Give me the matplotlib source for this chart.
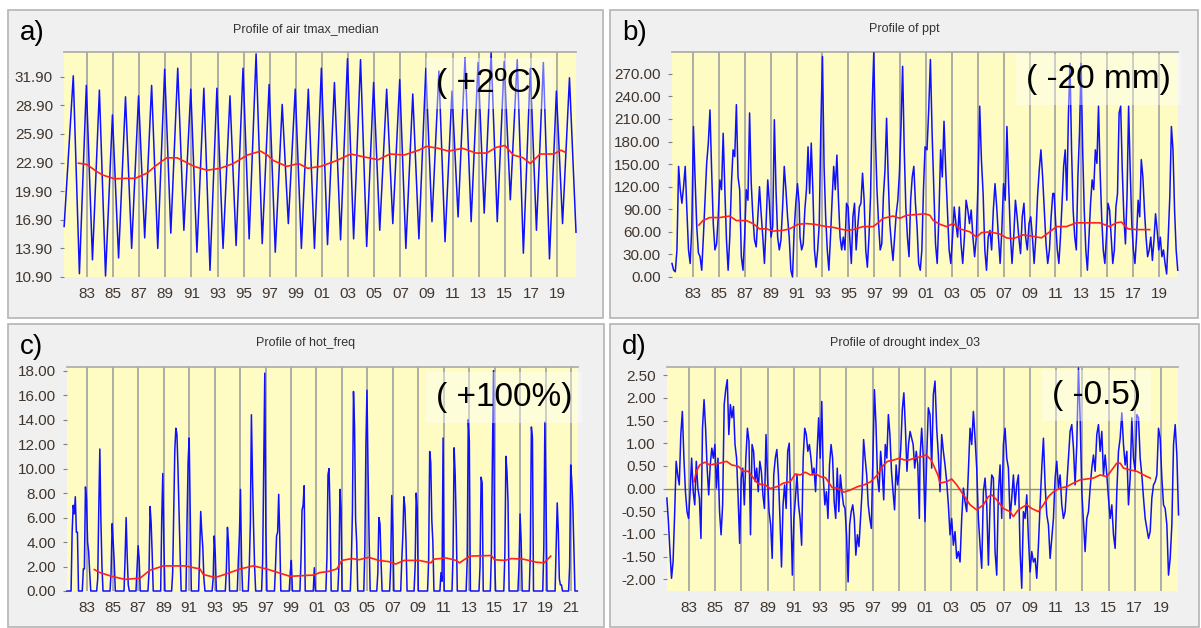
import numpy as np
import matplotlib.pyplot as plt
from matplotlib.patches import Rectangle

plt.rcParams['font.family'] = ['Liberation Sans', 'DejaVu Sans']

# ---------------- data ----------------
# a) air tmax_median : yearly summer peaks (1981..2019) and winter troughs (1982..2019)
tmax_peak_years = list(range(1981, 2020))
tmax_peaks = [32.0, 31.0, 30.5, 27.9, 29.8, 29.9, 31.0, 32.7, 32.8, 30.6,
              30.7, 30.7, 29.9, 32.8, 34.3, 31.1, 29.0, 30.6, 30.6, 32.8,
              31.3, 33.8, 33.7, 31.3, 30.6, 31.6, 30.1, 32.8, 32.5, 30.4,
              33.9, 33.4, 34.4, 33.5, 33.7, 32.8, 33.4, 30.4, 31.8]
tmax_trough_years = list(range(1982, 2020))
tmax_troughs = [11.25, 12.7, 11.0, 12.9, 13.9, 15.0, 13.9, 15.5, 15.8, 13.5,
                11.6, 13.9, 14.2, 14.9, 14.4, 13.5, 16.5, 13.9, 13.9, 14.3,
                14.8, 14.9, 14.1, 15.8, 16.5, 13.9, 14.9, 16.7, 14.6, 17.2,
                16.7, 17.6, 16.7, 19.0, 13.4, 15.8, 12.8, 16.5]
tmax_first = (1981.25, 16.2)
tmax_last = (2020.45, 15.6)
tmax_ma_t = [1982.35, 1983.0, 1983.7, 1984.2, 1985.1, 1986.0, 1986.7, 1987.6, 1988.3, 1989.1,
             1989.9, 1990.5, 1991.2, 1992.2, 1993.2, 1994.2, 1995.3, 1996.3, 1996.8, 1997.3,
             1998.3, 1999.2, 1999.9, 2000.9, 2002.1, 2003.2, 2004.2, 2005.3, 2006.2, 2007.3,
             2008.4, 2009.0, 2009.9, 2010.7, 2011.75, 2012.8, 2013.6, 2014.35, 2015.0, 2015.65,
             2016.4, 2016.95, 2017.7, 2018.75, 2019.3, 2019.6]
tmax_ma = [22.84, 22.7, 22.0, 21.6, 21.2, 21.25, 21.25, 21.8, 22.6, 23.4,
           23.4, 23.0, 22.5, 22.1, 22.3, 22.8, 23.7, 24.1, 23.7, 23.1,
           22.5, 22.8, 22.3, 22.5, 23.1, 23.8, 23.5, 23.2, 23.8, 23.7,
           24.2, 24.6, 24.4, 24.1, 24.4, 23.9, 23.9, 24.5, 24.7, 23.7,
           23.4, 22.8, 23.8, 23.8, 24.2, 24.0]

# b) ppt : four stretches of the trace, (start, end) in years
ppt_spans = [(1981.38, 1991.20), (1991.27, 2000.93), (2001.08, 2010.80), (2010.90, 2020.45)]
ppt_1 = [18, 9, 7, 36, 147, 116, 98, 120, 147, 89, 36, 18, 67, 200, 129, 67, 32, 27, 9, 53,
         102, 151, 178, 222, 142, 71, 36, 44, 80, 129, 116, 191, 116, 49, 9, 53, 124, 169, 160, 229,
         133, 116, 27, 9, 53, 116, 102, 218, 124, 80, 49, 40, 80, 120, 84, 53, 18, 71, 129, 98,
         53, 67, 209, 116, 53, 36, 49, 93, 147, 116, 80, 53, 9, 0, 62, 98, 124, 98]
ppt_2 = [53, 36, 44, 89, 116, 173, 111, 178, 116, 36, 13, 36, 71, 200, 293, 147, 80, 36, 9, 53,
         102, 147, 116, 162, 102, 53, 36, 53, 36, 98, 93, 53, 18, 80, 98, 36, 67, 93, 98, 138,
         102, 36, 13, 53, 107, 227, 298, 187, 116, 71, 36, 44, 107, 142, 211, 133, 71, 44, 22, 53,
         84, 102, 138, 200, 280, 169, 93, 53, 27, 102, 133, 147, 98, 67, 18, 9, 36, 116, 173]
ppt_3 = [169, 222, 289, 191, 116, 44, 18, 80, 169, 133, 207, 142, 89, 36, 18, 53, 93, 71, 53, 93,
         44, 18, 53, 102, 89, 71, 89, 53, 27, 53, 124, 227, 156, 111, 36, 9, 53, 62, 36, 89,
         124, 93, 53, 18, 62, 124, 102, 200, 124, 58, 18, 53, 102, 80, 53, 31, 80, 98, 53, 36,
         71, 80, 53, 18, 53, 107, 142, 169, 133, 89, 44, 18, 36, 80, 111]
ppt_4 = [111, 71, 36, 18, 53, 98, 147, 169, 102, 213, 284, 169, 89, 53, 36, 133, 191, 284, 169, 89,
         36, 9, 53, 98, 129, 116, 169, 151, 227, 142, 80, 36, 18, 53, 98, 89, 53, 18, 36, 93,
         111, 218, 227, 142, 80, 44, 107, 227, 142, 71, 36, 18, 53, 102, 80, 156, 133, 89, 53, 27,
         36, 53, 22, 49, 84, 62, 36, 53, 27, 36, 18, 4, 53, 107, 200, 169, 89, 36, 9]
ppt_ma_t = [1983.46, 1983.77, 1984.29, 1985.06, 1985.84, 1986.35, 1987.12, 1987.64, 1988.15, 1988.67,
            1989.19, 1989.96, 1990.47, 1991.12, 1991.76, 1992.41, 1993.31, 1993.82, 1994.86, 1995.37,
            1996.14, 1996.92, 1997.30, 1997.69, 1998.46, 1998.98, 1999.49, 2000.27, 2000.91, 2001.30,
            2001.57, 2002.08, 2002.59, 2003.11, 2003.62, 2004.39, 2004.91, 2005.29, 2005.94, 2006.71,
            2007.22, 2007.74, 2008.51, 2009.28, 2009.92, 2010.56, 2011.08, 2011.85, 2012.62, 2013.39,
            2014.42, 2015.19, 2015.70, 2016.09, 2016.60, 2017.25, 2018.28]
ppt_ma = [69, 75, 79, 79, 81, 75, 75, 71, 64, 64,
          61, 62, 64, 70, 71, 70, 67, 66, 62, 63,
          67, 67, 72, 78, 81, 78, 82, 83, 84, 82,
          75, 70, 67, 71, 64, 60, 53, 59, 60, 57,
          52, 51, 56, 54, 52, 60, 67, 67, 72, 72,
          72, 67, 72, 73, 64, 63, 63]

# c) hot_freq : onset of each hot season and its monthly values
hot_onsets = [1981.72, 1982.60, 1983.73, 1984.78, 1985.88, 1986.82, 1987.76, 1988.76, 1989.62, 1990.75,
              1991.74, 1992.80, 1993.84, 1994.78, 1995.64, 1996.69, 1997.70, 1998.86, 1999.70, 2000.75,
              2001.74, 2002.68, 2003.66, 2004.72, 2005.74, 2006.75, 2007.62, 2008.67, 2009.73, 2010.70,
              2011.65, 2012.76, 2013.77, 2014.66, 2015.72, 2016.83, 2017.72, 2018.78, 2019.75, 2020.81]
hot_seasons = [
    [0, 4.8, 7.0, 6.3, 7.7, 4.8, 4.8, 0], [0, 1.8, 1.8, 8.5, 7.5, 4.0, 3.2, 1.5, 0],
    [0, 1.0, 6.7, 11.6, 5.8, 2.0, 0], [0, 1.5, 5.5, 4.0, 2.3, 0], [0, 2.7, 6.0, 2.8, 0.5, 0],
    [0, 1.8, 3.7, 2.6, 0], [0, 1.5, 6.9, 5.6, 3.0, 0], [0, 5.8, 9.6, 4.0, 0],
    [0, 1.5, 6.5, 11.5, 13.3, 12.8, 10.0, 6.5, 3.0, 0], [0, 5.8, 10.6, 12.5, 6.4, 0],
    [0, 3.0, 6.5, 4.8, 3.5, 1.0, 0], [0, 1.0, 4.5, 3.0, 0], [0, 1.8, 5.2, 3.9, 0],
    [0, 2.5, 4.6, 8.3, 2.5, 0], [0, 2.0, 5.5, 14.4, 9.3, 5.3, 2.0, 0], [0, 2.5, 9.9, 17.8, 5.2, 0],
    [0, 2.0, 4.5, 4.8, 7.9, 4.4, 0], [0, 1.5, 2.5, 0], [0, 2.5, 6.6, 7.0, 8.6, 0], [0, 1.9, 0],
    [0, 2.7, 9.5, 10.0, 6.2, 0], [0, 2.0, 8.3, 6.8, 0], [0, 2.5, 6.5, 16.3, 13.4, 5.8, 4.0, 0],
    [0, 3.5, 12.0, 16.4, 9.8, 4.3, 0], [0, 1.5, 6.0, 5.5, 2.5, 0], [0, 2.0, 7.8, 5.0, 0],
    [0, 2.5, 4.5, 7.7, 6.8, 4.0, 0], [0, 2.0, 8.0, 6.7, 0], [0, 2.5, 11.4, 10.5, 5.8, 4.0, 0],
    [0, 1.5, 0.8, 12.5, 0], [0, 3.0, 11.7, 9.5, 5.3, 0], [0, 2.5, 14.0, 12.3, 0],
    [0, 2.0, 9.3, 8.8, 0], [0, 3.0, 11.1, 18.0, 3.0, 0], [0, 3.0, 11.0, 9.7, 7.2, 0],
    [0, 2.0, 6.3, 4.2, 0], [0, 3.0, 13.4, 12.5, 0], [0, 3.5, 13.8, 8.0, 0],
    [0, 3.5, 7.2, 5.0, 1.0, 0.5, 0.5, 0], [0, 2.0, 10.3, 9.0, 7.0, 3.5, 0]]
hot_start = 1981.40
hot_end = 2021.50
hot_ma_t = [1983.55, 1984.0, 1984.91, 1985.96, 1987.14, 1987.92, 1988.97, 1990.67, 1991.85, 1992.11,
            1993.03, 1993.94, 1994.99, 1996.04, 1997.09, 1998.92, 2000.75, 2001.27, 2001.94, 2002.6,
            2003.0, 2003.79, 2004.32, 2005.11, 2005.9, 2006.69, 2007.22, 2007.88, 2009.06, 2009.98,
            2010.24, 2011.18, 2011.97, 2012.24, 2013.03, 2014.74, 2015.0, 2015.8, 2016.33, 2017.25,
            2018.3, 2018.88, 2019.41]
hot_ma = [1.75, 1.5, 1.2, 0.95, 1.05, 1.7, 2.05, 2.05, 1.8, 1.35,
          1.1, 1.4, 1.8, 2.05, 1.8, 1.2, 1.3, 1.5, 1.6, 1.8,
          2.5, 2.65, 2.55, 2.75, 2.5, 2.4, 2.2, 2.5, 2.5, 2.3,
          2.6, 2.7, 2.5, 2.3, 2.85, 2.9, 2.55, 2.5, 2.65, 2.6,
          2.35, 2.3, 2.85]

# d) drought index_03 : two stretches of the trace
dri_spans = [(1981.31, 2000.57), (2000.62, 2020.34)]
dri_1 = [-0.21, -0.73, -1.39, -1.98, -1.62, -0.58, 0.60, 0.30, 0.08, 1.19, 1.70, 0.67, -0.07, -0.51, -0.66,
         -0.07, 0.67, -0.07, -0.36, 0.60, 0.01, -0.21, -1.10, 1.33, 1.96, 1.33, 0.45, -0.14, 0.52, 0.89,
         0.67, 0.97, 0.01, 0.67, -0.51, -1.02, -0.36, 1.85, 2.18, 2.40, 1.19, 1.85, 1.56, 1.81, 0.97,
         0.67, -0.21, -1.21, 0.23, 0.45, -0.36, 0.67, 1.33, 1.04, -1.02, 0.97, 0.82, 0.15, 0.45, -0.07,
         0.60, 0.38, -0.14, -0.44, 1.19, 0.23, -0.51, -0.80, -1.54, 0.30, 0.67, 0.86, 0.30, -0.66, -1.73,
         -0.36, 0.08, -0.44, 0.82, 1.00, -0.36, -1.91, -0.66, -0.21, 0.30, -0.36, -0.66, -1.25, 0.67, 1.33,
         1.19, 0.82, 0.97, 0.67, 0.30, 0.45, -0.07, 0.82, 1.56, 0.67, 1.92, 0.23, -0.36, -0.07, -0.66,
         0.52, 0.97, 0.67, -0.29, -0.66, 0.45, -0.51, 0.30, -0.07, -0.36, -0.44, -1.02, -2.06, -0.80, -0.51,
         -0.36, -0.66, -1.47, -1.02, -1.28, -0.66, -0.07, 1.08, 0.67, 0.30, -0.36, -0.66, -0.88, 0.60, 2.18,
         1.41, 0.23, -0.07, 0.82, 0.38, -0.25, 0.97, 0.67, 1.63, 1.19, 0.38, -0.07, -0.47, 0.52, 0.08,
         0.38, 0.89, 1.74, 2.11, 1.33, 0.38, 0.97, 1.26, 1.11, 0.97, 0.45, 0.82, 0.52, -0.66]
dri_2 = [0.67, 1.33, 0.67, -0.73, 0.67, 1.78, 1.63, 0.45, 2.07, 2.37, 1.33, 0.74, -0.07, 1.19, 0.82,
         0.52, 0.15, -0.36, -1.02, -0.66, -1.25, -0.95, -1.54, -1.39, -1.62, -0.66, 0.01, -0.29, -0.51, 0.38,
         1.33, 0.97, 1.70, 1.11, 0.45, -0.66, -1.25, -1.76, -0.07, 0.23, -0.36, -1.69, -0.36, 0.30, 0.23,
         -1.39, -1.91, -0.07, 0.52, -0.66, 0.97, 1.33, 0.67, 0.45, -0.66, -0.21, 0.30, -0.36, 0.08, 0.30,
         -1.39, -2.20, -0.51, -0.66, -0.14, -1.10, -1.84, -1.39, -1.62, -1.54, -1.98, -1.25, -0.36, 0.45, 1.11,
         0.08, -0.58, -0.80, -1.54, -1.10, -0.66, 0.23, 0.60, 0.01, 0.30, -0.36, -0.66, -0.51, 0.08, 0.67,
         1.26, 1.41, 0.89, 0.08, 0.97, 2.66, 1.56, -0.07, -0.73, -1.39, -0.66, -0.51, 0.01, 0.45, 0.74,
         0.38, 1.19, 1.41, 0.82, 1.26, 0.30, 0.74, 0.30, -0.21, -0.66, -0.36, -1.02, -1.32, -0.07, 0.82,
         1.11, 1.67, 0.97, 0.52, 0.82, -0.36, 0.23, 1.56, 0.67, 0.38, 1.63, 1.56, 0.67, 0.30, -0.21,
         -0.66, -0.88, -1.10, -0.95, -0.21, 0.08, 0.15, 0.30, 1.33, 1.11, 0.23, -0.36, -0.44, -0.80, -1.91,
         -1.54, -0.80, 0.97, 1.41, 0.74, -0.58]
dri_ma_t = [1983.38, 1983.56, 1983.82, 1984.2, 1984.59, 1984.97, 1985.35, 1985.86, 1986.25, 1986.76,
            1987.14, 1987.53, 1987.91, 1988.29, 1988.81, 1989.19, 1989.7, 1990.21, 1990.72, 1991.11,
            1991.49, 1991.87, 1992.26, 1992.64, 1993.03, 1993.41, 1993.92, 1994.3, 1994.82, 1995.33,
            1995.84, 1996.35, 1996.86, 1997.37, 1997.76, 1998.14, 1998.65, 1999.04, 1999.42, 1999.8,
            2000.19, 2000.7, 2001.08, 2001.47, 2001.98, 2002.15, 2002.65, 2003.04, 2003.42, 2003.93,
            2004.44, 2004.94, 2005.45, 2005.83, 2006.09, 2006.47, 2006.98, 2007.49, 2007.74, 2008.12,
            2008.51, 2008.76, 2009.14, 2009.65, 2010.03, 2010.41, 2010.8, 2011.31, 2011.81, 2012.32,
            2012.83, 2013.34, 2013.85, 2014.36, 2014.87, 2015.25, 2015.63, 2015.89, 2016.14, 2016.65,
            2017.16, 2017.67, 2018.18]
dri_ma = [0.15, 0.38, 0.52, 0.58, 0.52, 0.54, 0.56, 0.60, 0.52, 0.49,
          0.38, 0.38, 0.23, 0.10, 0.08, 0.0, 0.04, 0.12, 0.15, 0.32,
          0.30, 0.36, 0.30, 0.33, 0.26, 0.24, 0.02, 0.01, -0.08, -0.03,
          0.04, 0.08, 0.15, 0.30, 0.49, 0.60, 0.63, 0.67, 0.63, 0.63,
          0.67, 0.70, 0.74, 0.63, 0.30, 0.12, 0.15, 0.21, 0.08, -0.14,
          -0.36, -0.47, -0.36, -0.18, -0.14, -0.25, -0.44, -0.51, -0.62, -0.47,
          -0.40, -0.36, -0.44, -0.51, -0.36, -0.18, -0.07, 0.01, 0.04, 0.12,
          0.19, 0.21, 0.23, 0.30, 0.26, 0.41, 0.56, 0.56, 0.45, 0.41,
          0.38, 0.30, 0.23]

# axis ticks and texts
ticks_a = [10.9, 13.9, 16.9, 19.9, 22.9, 25.9, 28.9, 31.9]
ticks_b = [0, 30, 60, 90, 120, 150, 180, 210, 240, 270]
ticks_c = [0, 2, 4, 6, 8, 10, 12, 14, 16, 18]
ticks_d = [-2.0, -1.5, -1.0, -0.5, 0.0, 0.5, 1.0, 1.5, 2.0, 2.5]
year_ticks = list(range(1983, 2020, 2))
year_ticks_c = list(range(1983, 2022, 2))
titles = ['Profile of air tmax_median', 'Profile of ppt', 'Profile of hot_freq', 'Profile of drought index_03']
letters = ['a)', 'b)', 'c)', 'd)']
notes = ['( +2ºC)', '( -20 mm)', '( +100%)', '( -0.5)']

# ---------------- build series ----------------
a_t, a_v = [tmax_first[0]], [tmax_first[1]]
for i, yr in enumerate(tmax_peak_years):
    a_t.append(yr + 0.95)
    a_v.append(tmax_peaks[i])
    if i < len(tmax_trough_years):
        a_t.append(tmax_trough_years[i] + 0.42)
        a_v.append(tmax_troughs[i])
a_t.append(tmax_last[0])
a_v.append(tmax_last[1])

b_t, b_v = [], []
for (t0, t1), seg in zip(ppt_spans, [ppt_1, ppt_2, ppt_3, ppt_4]):
    b_t += list(np.linspace(t0, t1, len(seg)))
    b_v += seg

c_t, c_v = [hot_start], [0]
for onset, vals in zip(hot_onsets, hot_seasons):
    for k, v in enumerate(vals):
        c_t.append(onset + k / 12)
        c_v.append(v)
c_t.append(hot_end)
c_v.append(0)

d_t, d_v = [], []
for (t0, t1), seg in zip(dri_spans, [dri_1, dri_2]):
    d_t += list(np.linspace(t0, t1, len(seg)))
    d_v += seg

# ---------------- figure ----------------
W, H = 1201, 628
fig = plt.figure(figsize=(W / 100, H / 100), dpi=100)
fig.patch.set_facecolor('white')

def px_rect(x0, y0, x1, y1):
    return [x0 / W, 1 - y1 / H, (x1 - x0) / W, (y1 - y0) / H]

frames = [(8, 10, 603, 318), (610, 10, 1198, 318), (8, 324, 604, 627), (610, 324, 1199, 627)]
plots = [(64, 52, 576, 277), (672, 52, 1178, 277), (67, 367, 578, 591), (667, 367, 1178, 591)]
series = [(a_t, a_v, tmax_ma_t, tmax_ma), (b_t, b_v, ppt_ma_t, ppt_ma),
          (c_t, c_v, hot_ma_t, hot_ma), (d_t, d_v, dri_ma_t, dri_ma)]
yticks = [ticks_a, ticks_b, ticks_c, ticks_d]
xticks = [year_ticks, year_ticks, year_ticks_c, year_ticks]
xlims = [(1981.24, 2020.45), (1981.38, 2020.47), (1981.40, 2021.55), (1981.32, 2020.30)]
ylims = [(10.9, 34.5), (0, 299), (0, 18.3), (-2.26, 2.68)]
note_pos = [(0.831, 0.858), (0.843, 0.876), (0.855, 0.862), (0.841, 0.871)]

for i in range(4):
    fx0, fy0, fx1, fy1 = frames[i]
    r = px_rect(fx0, fy0, fx1, fy1)
    fig.patches.append(Rectangle((r[0], r[1]), r[2], r[3], transform=fig.transFigure,
                                 facecolor='#f0f0f0', edgecolor='#b4b4b4', lw=1.2, zorder=-5))
    fig.text((fx0 + fx1) / 2 / W, 1 - (fy0 + 19) / H, titles[i], ha='center', va='center',
             fontsize=9, color='#333333')
    fig.text((fx0 + 12) / W, 1 - (fy0 + 23) / H, letters[i], ha='left', va='center',
             fontsize=20, color='black')

    ax = fig.add_axes(px_rect(*plots[i]))
    ax.set_zorder(2)
    ax.set_facecolor('#fefcc2')
    t, v, mt, mv = series[i]
    ax.plot(t, v, color='#1010ff', lw=1.1, zorder=3, clip_on=False)
    ax.plot(mt, mv, color='#ff2020', lw=1.2, zorder=4)
    if i == 3:
        ax.axhline(0, color='#8c8c8c', lw=1.0, zorder=2)
    ax.set_xlim(*xlims[i])
    ax.set_ylim(*ylims[i])
    ax.set_xticks(xticks[i])
    ax.set_xticklabels(['%02d' % (y % 100) for y in xticks[i]])
    ax.set_yticks(yticks[i])
    ax.set_yticklabels(['%.2f' % y for y in yticks[i]])
    ax.grid(axis='x', color='#a0a0a0', lw=1.2, zorder=1)
    ax.set_axisbelow(True)
    for side in ['left', 'right', 'bottom']:
        ax.spines[side].set_visible(False)
    ax.spines['top'].set_color('#a8a8a8')
    ax.spines['top'].set_linewidth(1.2)
    ax.tick_params(axis='x', length=0, pad=7, labelsize=11, labelcolor='#40362d')
    ax.tick_params(axis='y', length=3, width=0.8, color='#808080', pad=5,
                   labelsize=11, labelcolor='#40362d')
    ax.text(note_pos[i][0], note_pos[i][1], notes[i], transform=ax.transAxes,
            ha='center', va='center', fontsize=24, color='black', zorder=5,
            bbox=dict(boxstyle='square,pad=0.3', facecolor='white', edgecolor='none', alpha=0.4))

fig.savefig('out.png', dpi=100)
